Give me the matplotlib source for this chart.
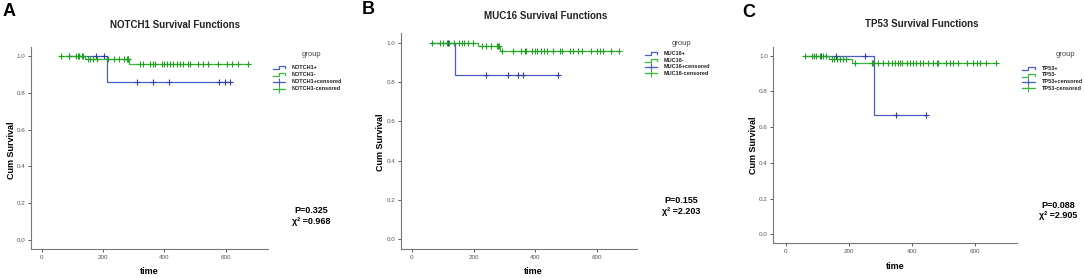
import matplotlib
matplotlib.use("Agg")
import matplotlib.pyplot as plt
from matplotlib.lines import Line2D
import numpy as np

# Figure size in pixels
W, H = 1084, 278

# ---- Panel A: NOTCH1 ----
a_pos_t = [90, 212, 614]
a_pos_s = [1.0, 0.857, 0.857]
a_pos_cens = [90, 177, 204, 310, 364, 415, 578, 598, 614]
a_neg_t = [60, 141, 286, 672]
a_neg_s = [1.0, 0.982, 0.957, 0.957]
a_neg_cens = [62, 90, 112, 117, 123, 130, 136, 152, 157, 168, 179, 217, 236,
              253, 268, 277, 280, 282, 320, 331, 353, 364, 369, 391, 399, 407,
              418, 429, 442, 451, 462, 478, 484, 511, 527, 543, 576, 603, 620,
              641, 672]

# ---- Panel B: MUC16 ----
b_pos_t = [61, 140, 474]
b_pos_s = [1.0, 0.833, 0.833]
b_pos_cens = [118, 240, 310, 345, 359, 474]
b_neg_t = [61, 213, 286, 672]
b_neg_s = [1.0, 0.98, 0.956, 0.956]
b_neg_cens = [65, 92, 100, 115, 121, 135, 154, 162, 169, 183, 199, 227, 240,
              256, 275, 280, 283, 293, 329, 353, 367, 370, 388, 399, 406, 417,
              428, 439, 456, 480, 485, 512, 523, 539, 550, 579, 599, 609, 620,
              645, 672]

# ---- Panel C: TP53 ----
c_pos_t = [61, 281, 444]
c_pos_s = [1.0, 0.667, 0.667]
c_pos_cens = [112, 160, 252, 350, 444]
c_neg_t = [61, 138, 210, 669]
c_neg_s = [1.0, 0.983, 0.961, 0.961]
c_neg_cens = [61, 85, 90, 98, 109, 119, 128, 146, 153, 162, 172, 181, 193,
              220, 273, 278, 294, 310, 326, 336, 347, 357, 363, 368, 384, 394,
              405, 415, 426, 436, 452, 468, 479, 484, 510, 521, 532, 548, 574,
              595, 606, 616, 637, 669]

genes = ["NOTCH1", "MUC16", "TP53"]
letters = ["A", "B", "C"]
p_values = ["P=0.325", "P=0.155", "P=0.088"]
chi_values = ["0.968", "2.203", "2.905"]
x_ticks = [0, 200, 400, 600]
y_ticks = [0.0, 0.2, 0.4, 0.6, 0.8, 1.0]

BLUE = "#4a5fc1"
GREEN = "#3cb93c"
BLUE_M = "#2e3f9e"
GREEN_M = "#22a022"


def fx(x):
    return x / W


def fy(y):
    return 1 - y / H


def surv_at(times, surv, pts):
    """Step lookup of survival at the censor times."""
    idx = np.searchsorted(times, pts, side="right") - 1
    idx = np.clip(idx, 0, len(surv) - 1)
    return np.array(surv)[idx]


def draw_legend(fig, gene, x_handle, x_text, y_title, x_title, rows):
    fig.text(fx(x_title), fy(y_title), "group", fontsize=5.5, color="#444444",
             ha="center", va="center", family="Liberation Sans")
    labels = [gene + "+", gene + "-", gene + "+censored", gene + "-censored"]
    colors = [BLUE, GREEN, BLUE, GREEN]
    for i, (lab, col) in enumerate(zip(labels, colors)):
        y = rows[i]
        x0, x1 = x_handle
        if i < 2:
            # little step glyph
            xs = [x0, x0 + 0.5 * (x1 - x0), x0 + 0.5 * (x1 - x0), x1, x1]
            ys = [y + 1.5, y + 1.5, y - 1.5, y - 1.5, y + 0.5]
            fig.add_artist(Line2D([fx(v) for v in xs], [fy(v) for v in ys],
                                  color=col, lw=0.9, transform=fig.transFigure))
        else:
            fig.add_artist(Line2D([fx(x0), fx(x1)], [fy(y), fy(y)], color=col,
                                  lw=0.9, transform=fig.transFigure))
            fig.add_artist(Line2D([fx((x0 + x1) / 2)], [fy(y)], color=col,
                                  marker="+", ms=6, mew=0.8, lw=0,
                                  transform=fig.transFigure))
        fig.text(fx(x_text), fy(y), lab, fontsize=4.0, color="#222222",
                 ha="left", va="center", family="Liberation Sans",
                 fontweight="bold")


def main():
    fig = plt.figure(figsize=(W / 100, H / 100), dpi=100)

    # axes boxes in pixels: left, right, top, bottom
    boxes = [(30.7, 268, 46.7, 249.3),
             (400.7, 636.7, 32.7, 249.3),
             (773.3, 1017.3, 46.7, 243.3)]
    xlims = [(-36, 738), (-36, 728), (-39, 735)]

    data = [(a_pos_t, a_pos_s, a_pos_cens, a_neg_t, a_neg_s, a_neg_cens),
            (b_pos_t, b_pos_s, b_pos_cens, b_neg_t, b_neg_s, b_neg_cens),
            (c_pos_t, c_pos_s, c_pos_cens, c_neg_t, c_neg_s, c_neg_cens)]

    # text positions (pixels)
    letter_pos = [(9, 11), (368, 9), (749, 12.5)]
    title_pos = [(175, 25), (546, 16), (921.5, 24)]
    ylabel_pos = [(11.7, 150), (380.7, 142), (753.3, 145)]
    xlabel_pos = [(149, 272), (532.7, 272), (895, 266.5)]
    stat_pos = [(311, 210.5, 221), (681, 200.7, 211.7), (1058.3, 205, 215)]
    legends = [((273, 285), 291.7, 54, 311.5, [67.5, 74.5, 82, 89]),
               ((645, 657), 663.3, 43.3, 681.7, [53.3, 60, 66.7, 73.3]),
               ((1021.7, 1035), 1041.7, 55, 1065, [68.3, 75, 81.7, 88.3])]

    for k in range(3):
        l, r, t, b = boxes[k]
        ax = fig.add_axes([fx(l), fy(b), fx(r - l), (b - t) / H])
        pt, ps, pc, nt, ns, nc = data[k]

        # positive group (blue) underneath, negative group (green) on top
        ax.step(pt, ps, where="post", color=BLUE, lw=0.9)
        ax.plot(pc, surv_at(pt, ps, pc), "+", color=BLUE_M, ms=3.8, mew=0.8)
        ax.step(nt, ns, where="post", color=GREEN, lw=0.9)
        ax.plot(nc, surv_at(nt, ns, nc), "+", color=GREEN_M, ms=3.8, mew=0.8)

        ax.set_xlim(*xlims[k])
        ax.set_ylim(-0.05, 1.05)
        ax.set_xticks(x_ticks)
        ax.set_yticks(y_ticks)
        ax.set_yticklabels([f"{v:.1f}" for v in y_ticks])
        ax.tick_params(labelsize=4.5, colors="#555555", length=2.5, width=0.7,
                       pad=1.5)
        for lab in ax.get_xticklabels() + ax.get_yticklabels():
            lab.set_family("Liberation Sans")
        for side in ["top", "right"]:
            ax.spines[side].set_visible(False)
        for side in ["left", "bottom"]:
            ax.spines[side].set_color("#777777")
            ax.spines[side].set_linewidth(0.8)

        # labels and annotations
        fig.text(fx(letter_pos[k][0]), fy(letter_pos[k][1]), letters[k],
                 fontsize=13, fontweight="bold", ha="center", va="center",
                 family="Liberation Sans")
        fig.text(fx(title_pos[k][0]), fy(title_pos[k][1]),
                 genes[k] + " Survival Functions", fontsize=7,
                 fontweight="bold", ha="center", va="center",
                 family="Liberation Sans", color="#222222")
        fig.text(fx(ylabel_pos[k][0]), fy(ylabel_pos[k][1]), "Cum Survival",
                 fontsize=6.5, fontweight="bold", rotation=90, ha="center",
                 va="center", family="Liberation Sans")
        fig.text(fx(xlabel_pos[k][0]), fy(xlabel_pos[k][1]), "time",
                 fontsize=6.5, fontweight="bold", ha="center", va="center",
                 family="Liberation Sans")
        sx, sy1, sy2 = stat_pos[k]
        fig.text(fx(sx), fy(sy1), p_values[k], fontsize=6.5, fontweight="bold",
                 ha="center", va="center", family="Liberation Sans")
        fig.text(fx(sx), fy(sy2), "\u03c7\u00b2 =" + chi_values[k],
                 fontsize=6.5, fontweight="bold", ha="center", va="center",
                 family=["Liberation Sans", "DejaVu Sans"])

        draw_legend(fig, genes[k], *legends[k])

    fig.savefig("out.png", dpi=100)


if __name__ == "__main__":
    main()
